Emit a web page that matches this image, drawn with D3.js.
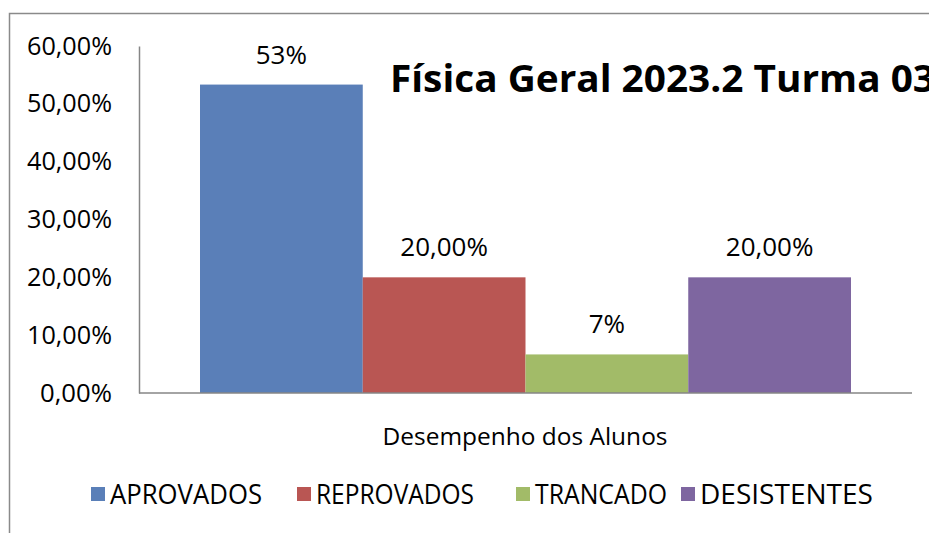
<!DOCTYPE html>
<html><head><meta charset="utf-8">
<script src="https://cdn.jsdelivr.net/npm/d3@7"></script>
<style>body{margin:0;background:#fff}svg{display:block}</style>
</head><body>
<svg id="c" width="929" height="533"></svg>
<script>
const categories = ["APROVADOS","REPROVADOS","TRANCADO","DESISTENTES"];
const values = [0.5333, 0.20, 0.0667, 0.20];
const labels = ["53%","20,00%","7%","20,00%"];
const colors = ["#5a7fb8","#b95653","#a2bb68","#7e66a0"];
const yTicks = [0,0.1,0.2,0.3,0.4,0.5,0.6];
const title = "Física Geral 2023.2 Turma 03";
const xTitle = "Desempenho dos Alunos";

const svg = d3.select("#c");
svg.append("rect").attr("x",9.5).attr("y",13.5).attr("width",1000).attr("height",600)
  .attr("fill","#fff").attr("stroke","#8a8a8a").attr("stroke-width",1.5);

const L=139,R=912,T=46,B=393;
const y = d3.scaleLinear().domain([0,0.6]).range([B,T]);
const x = d3.scaleBand().domain(categories).range([200,851]).padding(0);

const fmt = d => d3.format(".2f")(d*100).replace(".",",")+"%";
const ya = svg.append("g").attr("transform",`translate(${L},0)`)
  .call(d3.axisLeft(y).tickValues(yTicks).tickFormat(fmt).tickSize(0).tickPadding(27));
ya.select(".domain").attr("stroke","#868686").attr("stroke-width",1.5);
ya.selectAll("text").attr("font-family","Open Sans, sans-serif").attr("font-size",25).attr("fill","#000")
  .attr("textLength",85).attr("lengthAdjust","spacingAndGlyphs");
ya.selectAll("text").filter(d=>d===0).attr("textLength",72);

svg.append("g").selectAll("rect").data(values).join("rect")
  .attr("x",(d,i)=>x(categories[i])).attr("width",x.bandwidth())
  .attr("y",d=>y(d)).attr("height",d=>B-y(d)).attr("fill",(d,i)=>colors[i]);

svg.append("line").attr("x1",L).attr("x2",R).attr("y1",B).attr("y2",B)
  .attr("stroke","#868686").attr("stroke-width",1.5);

svg.append("g").selectAll("text").data(values).join("text")
  .attr("x",(d,i)=>x(categories[i])+x.bandwidth()/2).attr("y",d=>y(d)-21)
  .attr("text-anchor","middle").attr("font-family","Open Sans, sans-serif").attr("font-size",26)
  .text((d,i)=>labels[i]);

svg.append("text").attr("x",390).attr("y",92).attr("font-family","Open Sans, sans-serif")
  .attr("font-weight","bold").attr("font-size",37).attr("textLength",545).attr("lengthAdjust","spacingAndGlyphs")
  .text(title);

svg.append("text").attr("x",525).attr("y",445).attr("text-anchor","middle")
  .attr("font-family","Open Sans, sans-serif").attr("font-size",23)
  .attr("textLength",285).attr("lengthAdjust","spacingAndGlyphs").text(xTitle);

const legX=[91,297,516,681], legW=[152,158,132,173];
const lg = svg.append("g").selectAll("g").data(categories).join("g")
  .attr("transform",(d,i)=>`translate(${legX[i]},494)`);
lg.append("rect").attr("x",0).attr("y",-7).attr("width",14).attr("height",14).attr("fill",(d,i)=>colors[i]);
lg.append("text").attr("x",19).attr("y",10).attr("font-family","Open Sans, sans-serif").attr("font-size",27)
  .attr("textLength",(d,i)=>legW[i]).attr("lengthAdjust","spacingAndGlyphs").text(d=>d);
</script>
</body></html>
